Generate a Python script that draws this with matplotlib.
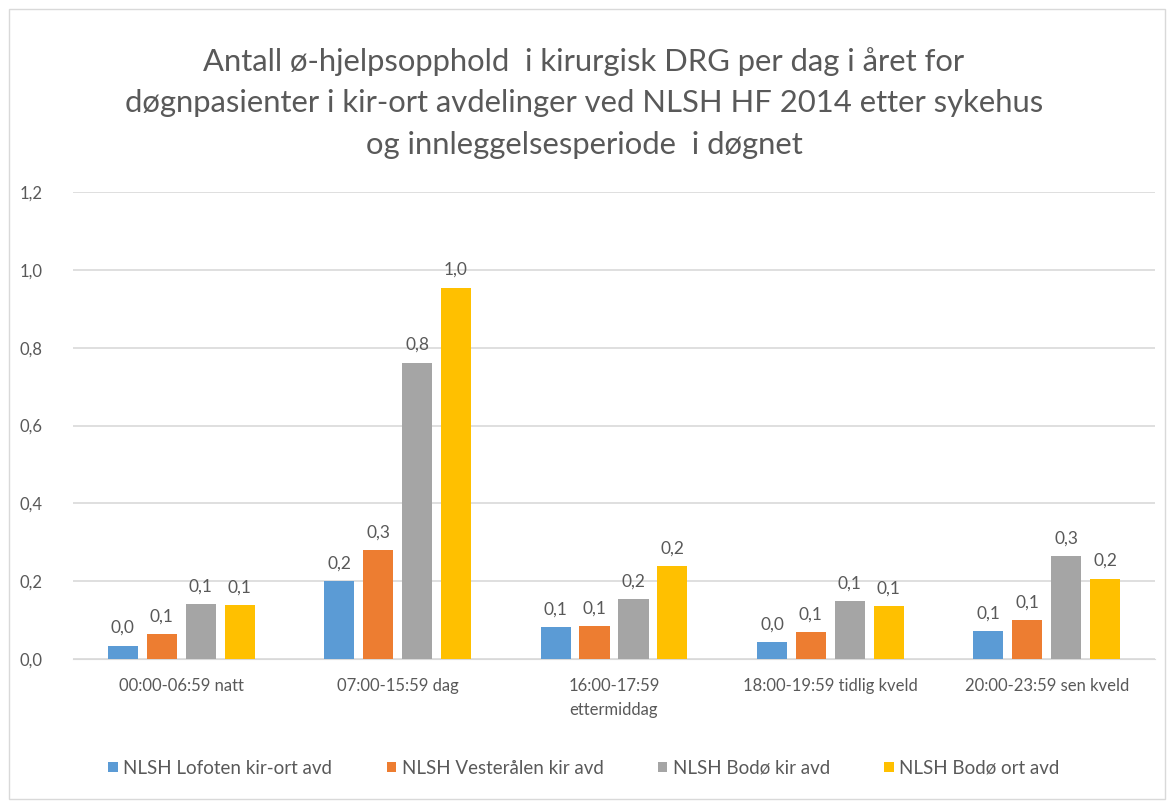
import matplotlib
matplotlib.use("Agg")
import matplotlib.pyplot as plt
import numpy as np
from matplotlib.patches import Rectangle

categories = ["00:00-06:59 natt", "07:00-15:59 dag", "16:00-17:59\nettermiddag",
              "18:00-19:59 tidlig kveld", "20:00-23:59 sen kveld"]
series_names = ["NLSH Lofoten kir-ort avd", "NLSH Vesterålen kir avd",
                "NLSH Bodø kir avd", "NLSH Bodø ort avd"]
lofoten = [0.034, 0.200, 0.082, 0.044, 0.072]
vesteralen = [0.064, 0.280, 0.085, 0.069, 0.100]
bodo_kir = [0.141, 0.761, 0.154, 0.149, 0.265]
bodo_ort = [0.139, 0.954, 0.239, 0.136, 0.206]
yticks = [0.0, 0.2, 0.4, 0.6, 0.8, 1.0, 1.2]
colors = ["#5B9BD5", "#ED7D31", "#A5A5A5", "#FFC000"]

title = ("Antall ø-hjelpsopphold  i kirurgisk DRG per dag i året for\n"
         "døgnpasienter i kir-ort avdelinger ved NLSH HF 2014 etter sykehus\n"
         "og innleggelsesperiode  i døgnet")

txt = "#595959"
plt.rcParams['font.family'] = ['Lato', 'DejaVu Sans']

fig = plt.figure(figsize=(11.68, 8.01), dpi=100)
fig.patches.append(Rectangle((9/1168, 1-799/801), 1156/1168, 790/801, transform=fig.transFigure,
                             fill=False, edgecolor="#D9D9D9", lw=1))
ax = fig.add_axes([73/1168, 1-659/801, (1155-73)/1168, (659-192)/801])

x = np.arange(len(categories))
w = 0.139
step = 0.18
data = [lofoten, vesteralen, bodo_kir, bodo_ort]
for i, (vals, c, name) in enumerate(zip(data, colors, series_names)):
    pos = x + (i - 1.5) * step
    bars = ax.bar(pos, vals, width=w, color=c, label=name, zorder=3)
    for b, v in zip(bars, vals):
        ax.annotate(f"{v:.1f}".replace(".", ","), (b.get_x() + b.get_width()/2, v),
                    xytext=(0, 7), textcoords="offset points", ha="center", va="bottom",
                    fontsize=12.5, color=txt)

ax.set_xlim(-0.5, len(categories) - 0.5)
ax.set_ylim(0, 1.2)
ax.set_yticks(yticks)
ax.set_yticklabels([f"{t:.1f}".replace(".", ",") for t in yticks])
ax.yaxis.grid(True, color="#D9D9D9", lw=1.2, zorder=0)
ax.set_xticks(x)
ax.set_xticklabels(categories, fontsize=12, color=txt, linespacing=1.6)
for s in ["top", "right", "left", "bottom"]:
    ax.spines[s].set_visible(False)
ax.spines["bottom"].set_visible(True)
ax.spines["bottom"].set_color("#D9D9D9")
ax.tick_params(axis="both", length=0, colors=txt, labelsize=12)
ax.tick_params(axis="x", pad=14)
ax.tick_params(axis="y", pad=22)

fig.text(0.5, 1-103/801, title, ha="center", va="center", fontsize=22.3, color=txt,
         linespacing=1.58)

leg = fig.legend(loc="center", bbox_to_anchor=(0.5, 1-768/801), ncol=4, frameon=False,
                 fontsize=13.5, handlelength=0.5, handleheight=0.5, handletextpad=0.3,
                 columnspacing=2.9)
for t in leg.get_texts():
    t.set_color(txt)

fig.savefig("out.png", dpi=100)
